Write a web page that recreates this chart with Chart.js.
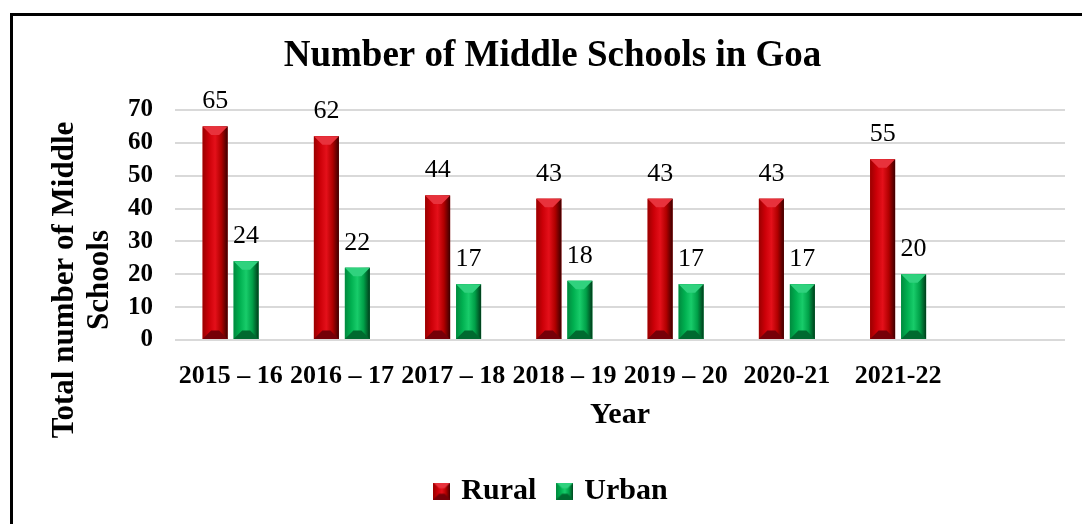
<!DOCTYPE html>
<html>
<head>
<meta charset="utf-8">
<script src="https://cdn.jsdelivr.net/npm/chart.js@4"></script>
<style>
  html, body { margin: 0; padding: 0; background: #fff; overflow: hidden; }
  .frame { position: absolute; left: 10px; top: 13px; width: 1200px; height: 600px; border: 3px solid #000; }
  .wrap { position: absolute; left: 0; top: 0; width: 1082px; height: 524px; }
</style>
</head>
<body>
<div class="frame"></div>
<div class="wrap"><canvas id="schoolsChart"></canvas></div>
<script>
// school years (last slot left empty, as in the source sheet)
const years = ["2015 – 16", "2016 – 17", "2017 – 18", "2018 – 19", "2019 – 20", "2020-21", "2021-22", ""];
const rural = [65, 62, 44, 43, 43, 43, 55, null];
const urban = [24, 22, 17, 18, 17, 17, 20, null];
const yTicks = [0, 10, 20, 30, 40, 50, 60, 70];
const yTitle = ["Total number of Middle", "Schools"];

const serif = "'Liberation Serif', 'Times New Roman', serif";

const shades = {
  Rural: {
    base: "#c00000",
    stops: ["#9a0000", "#cc0008", "#e4101a", "#b00000", "#3c0000"],
    top: "#e8323c",
    bottom: "#760008"
  },
  Urban: {
    base: "#00b050",
    stops: ["#008a3e", "#00b050", "#18cc6a", "#00a048", "#003c1a"],
    top: "#30d27e",
    bottom: "#006a30"
  }
};

// draws a bevelled box (used for bars and legend swatches)
function bevel(ctx, x0, x1, top, bottom, c) {
  const w = x1 - x0;
  const d = Math.min(w * 0.34, (bottom - top) / 2);
  const g = ctx.createLinearGradient(x0, 0, x1, 0);
  c.stops.forEach((s, i) => g.addColorStop(i / (c.stops.length - 1), s));
  ctx.fillStyle = g;
  ctx.fillRect(x0, top, w, bottom - top);
  ctx.fillStyle = c.top;
  ctx.beginPath();
  ctx.moveTo(x0, top);
  ctx.lineTo(x1, top);
  ctx.lineTo(x1 - d, top + d);
  ctx.lineTo(x0 + d, top + d);
  ctx.closePath();
  ctx.fill();
  ctx.fillStyle = c.bottom;
  ctx.beginPath();
  ctx.moveTo(x0, bottom);
  ctx.lineTo(x1, bottom);
  ctx.lineTo(x1 - d, bottom - d);
  ctx.lineTo(x0 + d, bottom - d);
  ctx.closePath();
  ctx.fill();
}

function swatch(c) {
  const cv = document.createElement("canvas");
  cv.width = 17;
  cv.height = 17;
  bevel(cv.getContext("2d"), 0, 17, 0, 17, c);
  return cv;
}

const barFinish = {
  id: "barFinish",
  afterDatasetsDraw(chart) {
    const ctx = chart.ctx;
    chart.data.datasets.forEach((ds, i) => {
      const meta = chart.getDatasetMeta(i);
      meta.data.forEach((bar, j) => {
        const v = ds.data[j];
        if (v == null) return;
        ctx.save();
        bevel(ctx, bar.x - bar.width / 2, bar.x + bar.width / 2, bar.y, bar.base, shades[ds.label]);
        ctx.fillStyle = "#000";
        ctx.font = "26px " + serif;
        ctx.textAlign = "center";
        ctx.textBaseline = "alphabetic";
        ctx.fillText(v, bar.x, bar.y - 18);
        ctx.restore();
      });
    });
  },
  afterDraw(chart) {
    const ctx = chart.ctx;
    ctx.save();
    ctx.translate(73, 280);
    ctx.rotate(-Math.PI / 2);
    ctx.fillStyle = "#000";
    ctx.font = "bold 31px " + serif;
    ctx.textAlign = "center";
    ctx.textBaseline = "alphabetic";
    yTitle.forEach((line, k) => ctx.fillText(line, 0, k * 35));
    ctx.restore();
  }
};

new Chart(document.getElementById("schoolsChart"), {
  type: "bar",
  data: {
    labels: years,
    datasets: [
      {
        label: "Rural",
        data: rural,
        backgroundColor: shades.Rural.base,
        pointStyle: swatch(shades.Rural),
        categoryPercentage: 0.557,
        barPercentage: 0.806
      },
      {
        label: "Urban",
        data: urban,
        backgroundColor: shades.Urban.base,
        pointStyle: swatch(shades.Urban),
        categoryPercentage: 0.557,
        barPercentage: 0.806
      }
    ]
  },
  options: {
    responsive: true,
    maintainAspectRatio: false,
    animation: false,
    layout: { padding: { left: 40, right: 17, top: 14, bottom: 8 } },
    plugins: {
      title: {
        display: true,
        text: "Number of Middle Schools in Goa",
        color: "#000",
        font: { family: serif, size: 37, weight: "bold" },
        padding: { top: 20, bottom: 31.6 }
      },
      legend: {
        position: "bottom",
        labels: {
          color: "#000",
          font: { family: serif, size: 30, weight: "bold" },
          usePointStyle: true,
          boxWidth: 9,
          boxHeight: 9,
          padding: 24
        }
      },
      tooltip: { enabled: false }
    },
    scales: {
      x: {
        afterFit(scale) { scale.height = 112; },
        grid: { display: false },
        border: { display: false },
        ticks: {
          color: "#000",
          font: { family: serif, size: 26, weight: "bold" },
          padding: 13,
          maxRotation: 0,
          autoSkip: false
        },
        title: {
          display: true,
          text: "Year",
          color: "#000",
          font: { family: serif, size: 30, weight: "bold" },
          padding: { top: 6.8, bottom: 19 }
        }
      },
      y: {
        min: 0,
        max: 70,
        afterFit(scale) { scale.width = 135; },
        afterBuildTicks(scale) { scale.ticks = yTicks.map(v => ({ value: v })); },
        grid: { color: "#d9d9d9", lineWidth: 2, drawTicks: false },
        border: { display: false },
        ticks: {
          color: "#000",
          font: { family: serif, size: 25, weight: "bold" },
          padding: 22,
          autoSkip: false
        }
      }
    }
  },
  plugins: [barFinish]
});
</script>
</body>
</html>
